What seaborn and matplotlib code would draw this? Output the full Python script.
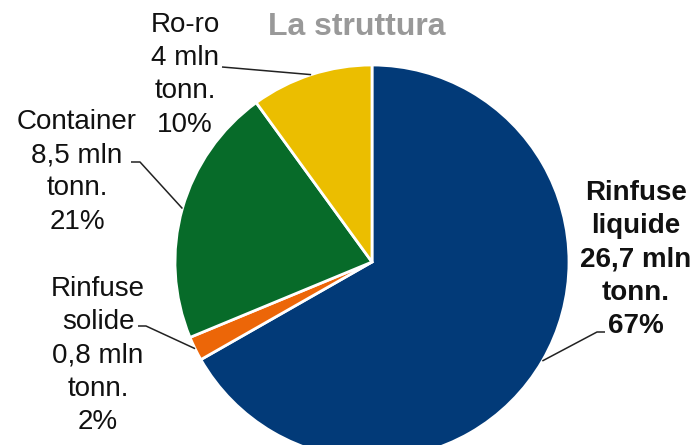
import matplotlib
matplotlib.use("Agg")

import numpy as np
import matplotlib.pyplot as plt
import seaborn as sns


# ----------------- data -----------------
categories = ["Rinfuse\nliquide", "Rinfuse\nsolide", "Container", "Ro-ro"]
tonnes = [26.7, 0.8, 8.5, 4.0]
tonnes_txt = ["26,7", "0,8", "8,5", "4"]
shares = [67, 2, 21, 10]
title = "La struttura"

colors = ["#023a78", "#ec6608", "#076b29", "#ebbe00"]

# layout, in pixels from the top-left corner of the 700x445 picture
W, H = 700, 445
pie_center = (372, 262)
pie_radius = 197
label_pos = [(636, 180), (98, 276), (77, 109), (185, 12)]      # top centre of each label
leader_start = [[(605, 332), (597, 332)],
                [(138, 326), (146, 326)],
                [(131, 162), (140, 162)],
                [(222, 67), (234, 68)]]
bold = [True, False, False, False]


def px(p):
    return p[0], H - p[1]


def main():
    sns.set_theme(style="white")
    plt.rcParams["font.family"] = ["Liberation Sans", "DejaVu Sans"]

    fig = plt.figure(figsize=(7, 4.45), dpi=100)
    ax = fig.add_axes([0, 0, 1, 1])

    wedges, _ = ax.pie(tonnes, colors=colors, startangle=90, counterclock=False,
                       center=px(pie_center), radius=pie_radius,
                       wedgeprops=dict(edgecolor="white", linewidth=2))

    ax.set_xlim(0, W)
    ax.set_ylim(0, H)
    ax.set_aspect("equal")
    ax.axis("off")

    cx, cy = px(pie_center)
    for i, w in enumerate(wedges):
        text = "%s\n%s mln\ntonn.\n%d%%" % (categories[i], tonnes_txt[i], shares[i])
        x, y = px(label_pos[i])
        ax.text(x, y, text, ha="center", va="top", fontsize=20, linespacing=1.36,
                fontweight="bold" if bold[i] else "normal", color="#111111")

        theta = np.deg2rad((w.theta1 + w.theta2) / 2)
        edge = (cx + pie_radius * np.cos(theta), cy + pie_radius * np.sin(theta))
        pts = [px(p) for p in leader_start[i]] + [edge]
        xs, ys = zip(*pts)
        ax.plot(xs, ys, color="#222222", lw=1.1, solid_capstyle="butt")

    tx, ty = px((357, 35))
    ax.text(tx, ty, title, ha="center", va="baseline", fontsize=23,
            fontweight="bold", color="#999999")

    fig.savefig("out.png", dpi=100)


if __name__ == "__main__":
    main()
